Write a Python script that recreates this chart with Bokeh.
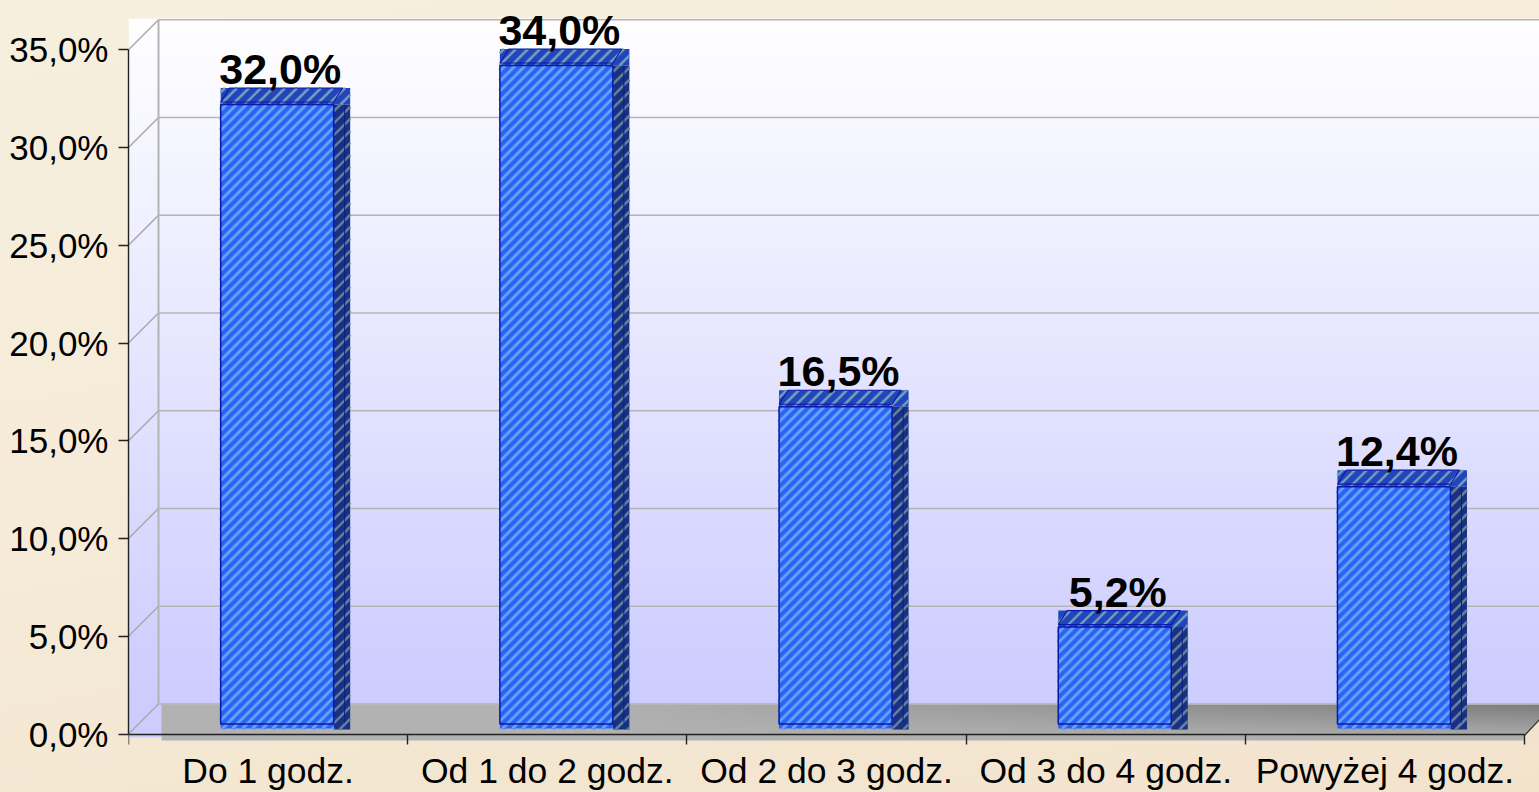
import numpy as np
from bokeh.embed import file_html
from bokeh.resources import INLINE
from bokeh.plotting import figure
from bokeh.models import Range1d, FixedTicker, LinearAxis, ColumnDataSource
from bokeh.core.properties import value

categories = ["Do 1 godz.", "Od 1 do 2 godz.", "Od 2 do 3 godz.", "Od 3 do 4 godz.", "Powyżej 4 godz."]
shares = [32.0, 34.0, 16.5, 5.2, 12.4]
value_ticks = [0, 5, 10, 15, 20, 25, 30, 35]
value_labels = ["0,0%", "5,0%", "10,0%", "15,0%", "20,0%", "25,0%", "30,0%", "35,0%"]

W, H = 1539, 792
FT, FB, FL = 0, 792, 128
XU = 279.2
YU, Y0 = 19.55, 733.5
BU, B0 = 19.5, 728
FONT = "Liberation Sans"

xr = Range1d(0, (W - FL) / XU)
yr = Range1d(-(FB - Y0) / YU, (Y0 - FT) / YU)
p = figure(width=W, height=H, x_range=xr, y_range=yr, output_backend="svg", toolbar_location=None,
           x_axis_type=None, y_axis_type=None,
           min_border_left=FL, min_border_right=0, min_border_top=0, min_border_bottom=0)
p.styles = {"position": "fixed", "left": "0px", "top": "0px",
            "background": "linear-gradient(170deg,#F6EFDE 0%,#F5EAD6 60%,#F2E3CD 100%)"}
p.border_fill_color = None
p.background_fill_color = None
p.outline_line_color = None
p.grid.visible = False
p.extra_y_ranges["bars"] = Range1d(-(FB - B0) / BU, (B0 - FT) / BU)


def vx(px):
    return (px - FL) / XU


def vy(py):
    return (Y0 - py) / YU


def by(py):
    return (B0 - py) / BU


def stripes(rects, period):
    """Rising 45 degree stripes clipped to rectangles given in data units of the bar range."""
    xs, ys = [], []
    for l, r, b, t in rects:
        x0, x1 = FL + l * XU, FL + r * XU
        y0, y1 = B0 - t * BU, B0 - b * BU
        c = np.ceil((x0 + y0) / period) * period
        while c < x1 + y1:
            xa, xb = max(x0, c - y1), min(x1, c - y0)
            if xb > xa:
                xs.append([vx(xa), vx(xb)])
                ys.append([by(c - xa), by(c - xb)])
            c += period
    return xs, ys


# wall gradient
rows = 360
t = np.clip(np.linspace(0, 1, rows) * (737 - 18) / (704 - 18), 0, 1)
wall = np.zeros((rows, 1, 4), dtype=np.uint8)
wall[..., 0] = (255 + (204 - 255) * t).astype(np.uint8)[:, None]
wall[..., 1] = (255 + (204 - 255) * t).astype(np.uint8)[:, None]
wall[..., 2] = 255
wall[..., 3] = 255
view = np.flipud(wall).view(dtype=np.uint32).reshape(rows, 1)
p.image_rgba(image=[view], x=0, y=vy(737), dw=vx(W), dh=vy(18) - vy(737), level="image")

# floor gradient
fw, fh = 140, 36
u = np.linspace(0, 1, fw)[None, :]
v = np.linspace(0, 1, fh)[:, None]
strength = np.clip((u - 0.3) / 0.7, 0, 1) * (1 - v)
g = (178 - 52 * strength).astype(np.uint8)
floor = np.dstack([g, g, g, np.full_like(g, 255)])
fview = np.flipud(floor).view(dtype=np.uint32).reshape(fh, fw)
p.image_rgba(image=[fview], x=vx(161), y=vy(740), dw=vx(W) - vx(161), dh=vy(704) - vy(740), level="image")

# corner past the end of the floor
p.patch([vx(1524), vx(W), vx(W), vx(1524)], [vy(735), vy(719), vy(741), vy(741)],
        fill_color="#F3E3CC", line_color=None, level="image")

# wall grid
depth_x, depth_y = 30 / XU, 30 / YU
GRID = "#B4B4B4"
gt = np.array(value_ticks, dtype=float)
p.segment(x0=[depth_x] * len(gt), y0=gt + depth_y, x1=[vx(W)] * len(gt), y1=gt + depth_y,
          line_color=GRID, line_width=1.5)
p.segment(x0=[0.0] * len(gt), y0=gt, x1=[depth_x] * len(gt), y1=gt + depth_y,
          line_color="#A8A8A8", line_width=1.5)
p.segment(x0=[depth_x], y0=[depth_y], x1=[depth_x], y1=[35 + depth_y], line_color=GRID, line_width=2)
p.segment(x0=[vx(1524)], y0=[vy(735)], x1=[vx(W)], y1=[vy(719)], line_color="#333333", line_width=1.2)

# bars
idx = np.arange(len(shares))
vals = np.array(shares)
centers = idx + 0.5325
half = 56.5 / XU
sd = 16.5 / XU
rect = 16.5 / BU
left = centers - half
right = centers + half
src = ColumnDataSource(dict(left=left, right=right, side=right + sd, top=vals, cap=vals + rect, base=0 * vals))

p.quad(left="right", right="side", top="top", bottom=by(729), source=src, y_range_name="bars",
       fill_color="#1A3084", line_color=None)
sx, sy = stripes([(r, r + sd, by(729), s) for r, s in zip(right, vals)], 12)
p.multi_line(sx, sy, y_range_name="bars", line_color="#5F8296", line_width=2.6)

p.quad(left="left", right="side", top="cap", bottom="top", source=src, y_range_name="bars",
       fill_color="#2244BC", line_color=None)
cx, cy = stripes([(l, r + sd, s, s + rect) for l, r, s in zip(left, right, vals)], 12)
p.multi_line(cx, cy, y_range_name="bars", line_color="#6E9CB4", line_width=2.6)

p.quad(left="left", right="right", top="top", bottom="base", source=src, y_range_name="bars",
       fill_color="#2A62F5", line_color=None)
fx, fy = stripes([(l, r, 0.0, s) for l, r, s in zip(left, right, vals)], 10)
p.multi_line(fx, fy, y_range_name="bars", line_color="#4480F5", line_width=4)
p.multi_line(fx, fy, y_range_name="bars", line_color="#6CA8F5", line_width=1.8)

p.quad(left="left", right="right", top="top", bottom=by(723.5), source=src, y_range_name="bars",
       fill_color=None, line_color="#0A1AA8", line_width=1.5)
p.patches(xs=[[l, l + 9 / XU, r + 9 / XU, r] for l, r in zip(left, right)],
          ys=[[s + 2.5 / BU, s + rect, s + rect, s + 2.5 / BU] for s in vals],
          y_range_name="bars", fill_color=None, line_color="#0A1AA8", line_width=1.2)
p.segment(x0=right + 11 / XU, y0=vals, x1=right + 11 / XU, y1=[by(722)] * len(vals), y_range_name="bars",
          line_color="#0C1E80", line_width=1)

p.text(x=centers + 3 / XU, y=vals + rect, text=[f"{s:.1f}%".replace(".", ",") for s in shares],
       y_range_name="bars", y_offset=-19, text_align="center", text_baseline="alphabetic",
       text_font=value(FONT), text_font_style="bold", text_font_size="43px", text_color="#000000")

# axes
ya = LinearAxis(ticker=FixedTicker(ticks=value_ticks), bounds=(0, 35),
                major_label_overrides={t: l for t, l in zip(value_ticks, value_labels)})
ya.major_tick_out = 10
ya.major_tick_in = 0
ya.minor_tick_out = 0
ya.minor_tick_in = 0
ya.major_label_standoff = 10
ya.major_label_text_font = FONT
ya.major_label_text_font_size = "35px"
ya.major_label_text_color = "#000000"
ya.axis_line_color = "#222222"
ya.major_tick_line_color = "#222222"
ya.axis_line_width = 1.4
ya.major_tick_line_width = 1.4
p.add_layout(ya, "left")

mids = [float(i) + 0.5 for i in range(len(categories))]
edges = [float(i) for i in range(len(categories) + 1)]
xa = LinearAxis(ticker=FixedTicker(ticks=mids, minor_ticks=edges), bounds=(0, 5), fixed_location=0,
                major_label_overrides={m: c for m, c in zip(mids, categories)})
xa.major_tick_out = 0
xa.major_tick_in = 0
xa.minor_tick_out = 10
xa.minor_tick_in = 0
xa.major_label_standoff = 7
xa.major_label_text_font = FONT
xa.major_label_text_font_size = "35.5px"
xa.major_label_text_color = "#000000"
xa.axis_line_color = "#222222"
xa.minor_tick_line_color = "#222222"
xa.axis_line_width = 1.4
xa.minor_tick_line_width = 1.4
p.add_layout(xa, "below")

open("out.html", "w").write(file_html(p, INLINE))
